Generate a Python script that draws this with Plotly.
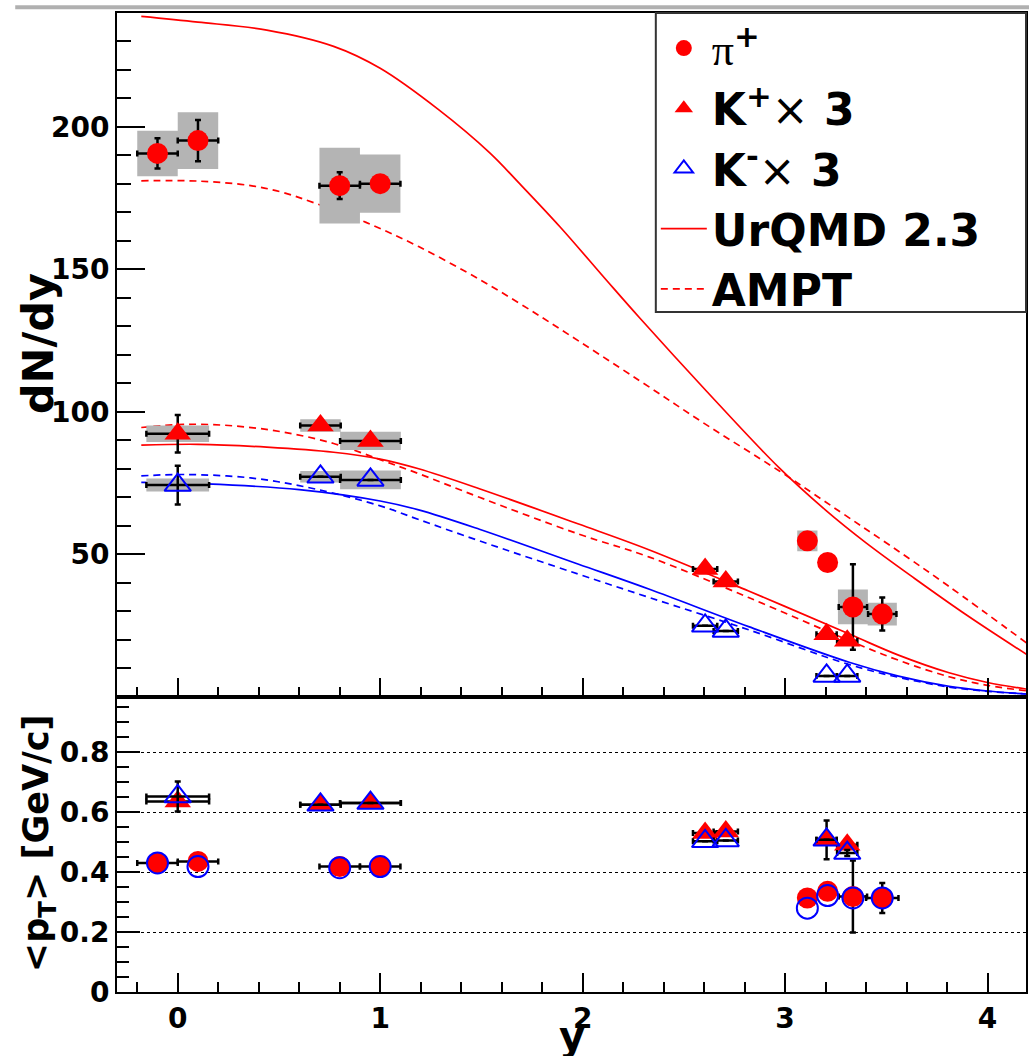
import plotly.graph_objects as go

# ---------------- data ----------------
# pi+ dN/dy
pi_y = [-0.10, 0.10, 0.80, 1.00, 3.11, 3.21, 3.335, 3.48]
pi_dndy = [190.7, 195.2, 179.4, 180.1, 54.7, 47.1, 31.5, 29.0]
pi_stat = [5.3, 7.2, 4.7, 1.5, 0.0, 0.0, 15.0, 5.8]
pi_xerr = [0.10, 0.10, 0.10, 0.10, 0.0, 0.0, 0.07, 0.07]
pi_sys = [8.0, 10.0, 13.3, 10.2, 3.6, 0.0, 6.1, 4.0]
pi_sys_dx = [0.10, 0.10, 0.10, 0.10, 0.05, 0.0, 0.074, 0.072]

# kaons (x3) dN/dy
k_y = [0.00, 0.705, 0.952, 2.605, 2.707, 3.205, 3.307]
k_xerr = [0.155, 0.10, 0.15, 0.06, 0.06, 0.05, 0.05]
k_sys_dx = [0.155, 0.10, 0.15, 0.06, 0.06, 0.05, 0.05]
kp_dndy = [92.3, 95.2, 89.8, 44.8, 40.4, 21.9, 19.6]
kp_stat = [6.6, 0.0, 0.0, 0.0, 0.0, 0.0, 0.0]
kp_sys = [2.9, 2.2, 3.2, 0.0, 0.0, 0.0, 0.0]
km_dndy = [74.3, 77.2, 76.1, 24.9, 23.1, 7.3, 7.3]
km_stat = [6.8, 0.0, 0.0, 0.0, 0.0, 0.0, 0.0]
km_sys = [2.3, 2.0, 3.3, 0.0, 0.0, 0.0, 0.0]

# model curves
urqmd_pi_x = [-0.18, 0.10, 0.44, 0.77, 1.00, 1.29, 1.54, 1.69, 1.89, 2.12, 2.28, 2.61, 2.97, 3.20, 3.40, 3.64, 3.90, 4.20]
urqmd_pi = [238.8, 236.8, 234.0, 228.3, 220.6, 206.0, 191.0, 180.0, 164.8, 146.0, 133.1, 107.4, 80.4, 65.5, 54.0, 41.5, 28.5, 14.5]
ampt_pi_x = [-0.18, 0.10, 0.36, 0.52, 0.68, 0.93, 1.19, 1.49, 1.69, 1.89, 2.28, 2.61, 2.97, 3.27, 3.51, 3.80, 4.20]
ampt_pi = [181.1, 181.0, 179.4, 177.0, 173.2, 166.5, 158.0, 146.5, 138.0, 129.0, 111.0, 95.5, 79.3, 65.0, 53.5, 39.2, 18.5]
urqmd_kp_x = [-0.18, 0.10, 0.44, 0.77, 1.00, 1.19, 1.49, 1.98, 2.33, 2.82, 3.32, 3.56, 3.81, 4.00, 4.20]
urqmd_kp = [88.3, 88.6, 87.6, 85.8, 83.4, 80.0, 73.0, 60.6, 51.5, 37.1, 21.9, 14.6, 8.4, 5.0, 2.6]
ampt_kp_x = [-0.18, 0.03, 0.27, 0.52, 0.77, 1.00, 1.19, 1.49, 1.98, 2.33, 2.82, 3.32, 3.56, 3.81, 4.00, 4.20]
ampt_kp = [94.5, 95.6, 95.1, 92.9, 88.9, 83.2, 78.3, 70.0, 57.1, 49.0, 34.8, 19.6, 12.8, 7.0, 4.0, 2.0]
urqmd_km_x = [-0.18, 0.14, 0.60, 1.00, 1.19, 1.49, 1.98, 2.33, 2.82, 3.32, 3.56, 3.81, 4.00, 4.20]
urqmd_km = [75.2, 74.7, 72.7, 68.7, 65.6, 58.8, 46.5, 37.7, 24.6, 12.0, 7.2, 3.6, 2.0, 0.9]
ampt_km_x = [-0.18, 0.03, 0.36, 0.68, 1.00, 1.19, 1.49, 1.98, 2.33, 2.82, 3.32, 3.56, 3.81, 4.00, 4.20]
ampt_km = [77.5, 78.0, 76.8, 72.9, 67.0, 62.2, 54.7, 43.0, 34.8, 23.5, 11.2, 6.8, 3.4, 1.9, 0.9]

# <pT>
pt_pip = [0.431, 0.436, 0.419, 0.419, 0.314, 0.336, 0.319, 0.314]
pt_pim = [0.431, 0.419, 0.415, 0.419, 0.280, 0.322, 0.314, 0.314]
pt_pi_err = [0.01, 0.01, 0.01, 0.01, 0.0, 0.0, 0.12, 0.05]
pt_pi_xerr = [0.10, 0.10, 0.10, 0.10, 0.0, 0.0, 0.07, 0.08]
pt_kp = [0.636, 0.625, 0.631, 0.531, 0.536, 0.508, 0.492]
pt_km = [0.653, 0.625, 0.631, 0.503, 0.506, 0.508, 0.464]
pt_kp_err = [0.0, 0.0, 0.0, 0.0, 0.0, 0.065, 0.01]
pt_km_err = [0.05, 0.0, 0.0, 0.0, 0.0, 0.0, 0.01]

# axis ticks
x_ticks = [0, 1, 2, 3, 4]
top_y_ticks = [50, 100, 150, 200]
bot_y_ticks = [0, 0.2, 0.4, 0.6, 0.8]
bot_y_labels = ["0", "0.2", "0.4", "0.6", "0.8"]

# ---------------- style ----------------
RED = "#ff0000"
BLUE = "#0000ff"
GRAY = "#b4b4b4"
FONT = "DejaVu Sans"
ERR = dict(type="data", color="black", thickness=2.5, width=3)
CIRC = 21
TRI = 23

fig = go.Figure()


def boxes(xs, vs, sys, dx):
    bx, by = [], []
    for x, v, s, d in zip(xs, vs, sys, dx):
        if s <= 0 or d <= 0:
            continue
        bx += [x - d, x + d, x + d, x - d, x - d, None]
        by += [v - s, v - s, v + s, v + s, v - s, None]
    return bx, by


# model curves (top panel)
curves = [
    (urqmd_pi_x, urqmd_pi, RED, "solid", True, "<b>UrQMD 2.3</b>", 4),
    (ampt_pi_x, ampt_pi, RED, "7px,5px", True, "<b>AMPT</b>", 5),
    (urqmd_kp_x, urqmd_kp, RED, "solid", False, "UrQMD K+", 10),
    (ampt_kp_x, ampt_kp, RED, "7px,5px", False, "AMPT K+", 10),
    (urqmd_km_x, urqmd_km, BLUE, "solid", False, "UrQMD K-", 10),
    (ampt_km_x, ampt_km, BLUE, "7px,5px", False, "AMPT K-", 10),
]
for cx, cy, col, dash, sl, name, rank in curves:
    fig.add_trace(go.Scatter(
        x=cx, y=cy, mode="lines", name=name, showlegend=sl, legendrank=rank,
        line=dict(color=col, width=1.7, dash=dash, shape="spline", smoothing=1.0),
        xaxis="x", yaxis="y"))

# systematic boxes
for nm, xs, vs, ss, dd in [("pi sys", pi_y, pi_dndy, pi_sys, pi_sys_dx),
                           ("K+ sys", k_y, kp_dndy, kp_sys, k_sys_dx),
                           ("K- sys", k_y, km_dndy, km_sys, k_sys_dx)]:
    bx, by = boxes(xs, vs, ss, dd)
    fig.add_trace(go.Scatter(x=bx, y=by, mode="lines", fill="toself", name=nm,
                             fillcolor=GRAY, line=dict(width=0, color=GRAY),
                             showlegend=False, hoverinfo="skip",
                             xaxis="x", yaxis="y"))

# data (top panel)
fig.add_trace(go.Scatter(
    x=pi_y, y=pi_dndy, mode="markers",
    name="<span style=\"font-family:'Liberation Serif';font-weight:normal\">π</span><sup>+</sup>",
    legendrank=1,
    marker=dict(symbol="circle", size=CIRC, color=RED, line=dict(width=0)),
    error_y=dict(array=pi_stat, **ERR), error_x=dict(array=pi_xerr, **ERR),
    xaxis="x", yaxis="y"))
fig.add_trace(go.Scatter(
    x=k_y, y=kp_dndy, mode="markers",
    name="K<sup>+</sup><span style=\"font-weight:normal\">×</span> 3",
    legendrank=2,
    marker=dict(symbol="triangle-up", size=TRI, color=RED, line=dict(width=0)),
    error_y=dict(array=kp_stat, **ERR), error_x=dict(array=k_xerr, **ERR),
    xaxis="x", yaxis="y"))
fig.add_trace(go.Scatter(
    x=k_y, y=km_dndy, mode="markers",
    name="K<sup>-</sup><span style=\"font-weight:normal\">×</span> 3",
    legendrank=3,
    marker=dict(symbol="triangle-up-open", size=TRI, color=BLUE, line=dict(width=2, color=BLUE)),
    error_y=dict(array=km_stat, **ERR), error_x=dict(array=k_xerr, **ERR),
    xaxis="x", yaxis="y"))

# bottom panel
fig.add_trace(go.Scatter(
    x=pi_y, y=pt_pip, mode="markers", showlegend=False, name="pi+ pT",
    marker=dict(symbol="circle", size=CIRC, color=RED, line=dict(width=0)),
    error_y=dict(array=pt_pi_err, **ERR), error_x=dict(array=pt_pi_xerr, **ERR),
    xaxis="x2", yaxis="y2"))
fig.add_trace(go.Scatter(
    x=k_y, y=pt_kp, mode="markers", showlegend=False, name="K+ pT",
    marker=dict(symbol="triangle-up", size=TRI, color=RED, line=dict(width=0)),
    error_y=dict(array=pt_kp_err, **ERR), error_x=dict(array=k_xerr, **ERR),
    xaxis="x2", yaxis="y2"))
fig.add_trace(go.Scatter(
    x=pi_y, y=pt_pim, mode="markers", showlegend=False, name="pi- pT",
    marker=dict(symbol="circle-open", size=CIRC, color=BLUE, line=dict(width=2, color=BLUE)),
    xaxis="x2", yaxis="y2"))
fig.add_trace(go.Scatter(
    x=k_y, y=pt_km, mode="markers", showlegend=False, name="K- pT",
    marker=dict(symbol="triangle-up-open", size=TRI, color=BLUE, line=dict(width=2, color=BLUE)),
    error_y=dict(array=pt_km_err, **ERR), error_x=dict(array=k_xerr, **ERR),
    xaxis="x2", yaxis="y2"))

# ---------------- layout ----------------
W, H = 1029, 1056
ML, MR, MT, MB = 117, 1, 13, 64
PW = W - ML - MR
PH = H - MT - MB
SPLIT = (992.3 - 697) / PH

tickfont = dict(family=FONT, size=28, color="black", weight="bold")
axis_common = dict(showline=True, linecolor="black", linewidth=2, mirror=True,
                   ticks="inside", tickcolor="black", tickwidth=2,
                   zeroline=False, tickfont=tickfont)

minor_x = [round(-0.2 + 0.2 * i, 2) for i in range(23)
           if abs((-0.2 + 0.2 * i) - round(-0.2 + 0.2 * i)) > 1e-6]

fig.update_layout(
    width=W, height=H,
    margin=dict(l=ML, r=MR, t=MT, b=MB),
    paper_bgcolor="white", plot_bgcolor="white",
    xaxis=dict(domain=[0, 1], anchor="y", range=[-0.3, 4.19], showgrid=False,
               tickmode="array", tickvals=x_ticks, showticklabels=False, ticklen=19,
               minor=dict(tickmode="array", tickvals=minor_x, ticks="inside", ticklen=10,
                          tickwidth=2, tickcolor="black"),
               **axis_common),
    yaxis=dict(domain=[SPLIT, 1], anchor="x", range=[0, 240], showgrid=False,
               tickmode="array", tickvals=top_y_ticks, ticklen=28,
               minor=dict(tickmode="array",
                          tickvals=[v for v in range(10, 240, 10) if v % 50 != 0],
                          ticks="inside", ticklen=14, tickwidth=2, tickcolor="black"),
               **axis_common),
    xaxis2=dict(domain=[0, 1], anchor="y2", range=[-0.3, 4.19], matches="x", showgrid=False,
                tickmode="array", tickvals=x_ticks, ticklen=19,
                minor=dict(tickmode="array", tickvals=minor_x, ticks="inside", ticklen=10,
                           tickwidth=2, tickcolor="black"),
                **axis_common),
    yaxis2=dict(domain=[0, SPLIT], anchor="x2", range=[0, 0.986],
                tickmode="array", tickvals=bot_y_ticks, ticktext=bot_y_labels, ticklen=23,
                minor=dict(tickmode="array",
                           tickvals=[0.05, 0.1, 0.15, 0.25, 0.3, 0.35, 0.45, 0.5, 0.55,
                                     0.65, 0.7, 0.75, 0.85, 0.9, 0.95],
                           ticks="inside", ticklen=12, tickwidth=2, tickcolor="black"),
                showgrid=True, gridcolor="black", gridwidth=1, griddash="dot",
                **axis_common),
    legend=dict(x=(657 - ML) / PW, y=1, xanchor="left", yanchor="top",
                bgcolor="rgba(0,0,0,0)", borderwidth=0, itemwidth=46,
                font=dict(family=FONT, size=44, color="black", weight="bold"),
                traceorder="normal"),
    showlegend=True,
)

# legend frame
fig.add_shape(type="rect", xref="paper", yref="paper",
              x0=(657 - ML) / PW, x1=1.0,
              y0=(H - MB - 312) / PH, y1=1.0,
              line=dict(color="#333333", width=2), fillcolor="white", layer="above")
# top gray rule
fig.add_shape(type="line", xref="paper", yref="paper",
              x0=(15 - ML) / PW, x1=1.01,
              y0=(H - MB - 7.3) / PH, y1=(H - MB - 7.3) / PH,
              line=dict(color="#b0b0b0", width=4), layer="above")

# axis titles
fig.add_annotation(text="dN/dy", xref="paper", yref="paper",
                   x=(38 - ML) / PW, y=(H - MB - 344) / PH,
                   textangle=-90, showarrow=False, xanchor="center", yanchor="middle",
                   font=dict(family=FONT, size=43, color="black", weight="bold"))
fig.add_annotation(text="&lt;p<sub>T</sub>&gt; [GeV/c]", xref="paper", yref="paper",
                   x=(38 - ML) / PW, y=(H - MB - 843) / PH,
                   textangle=-90, showarrow=False, xanchor="center", yanchor="middle",
                   font=dict(family=FONT, size=35, color="black", weight="bold"))
fig.add_annotation(text="y", xref="paper", yref="paper",
                   x=(573 - ML) / PW, y=(H - MB - 1036) / PH,
                   showarrow=False, xanchor="center", yanchor="middle",
                   font=dict(family=FONT, size=40, color="black", weight="bold"))

fig.write_html("out.html")
